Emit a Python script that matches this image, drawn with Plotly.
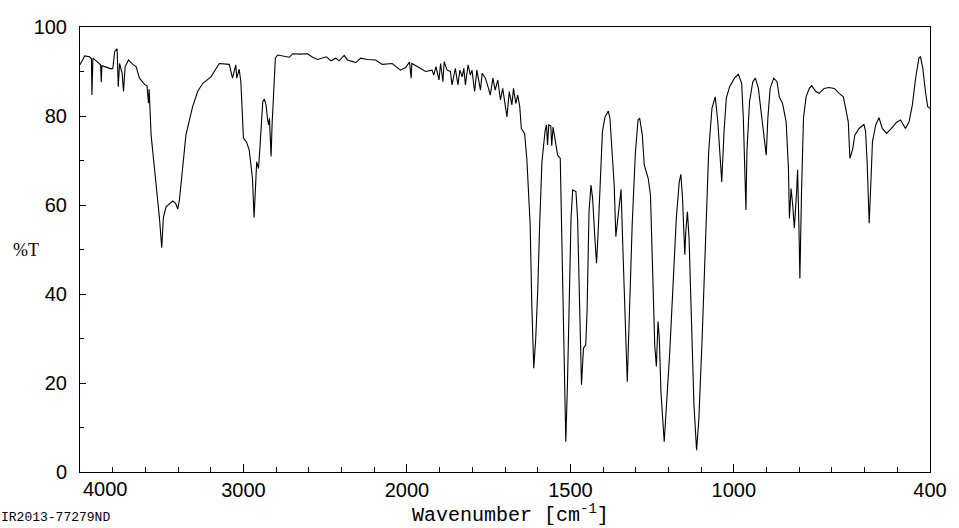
import plotly.graph_objects as go

wavenumber = [
    4000, 3971, 3941, 3930, 3927, 3924, 3921, 3901, 3874, 3870, 3866, 3849, 3811, 3799,
    3788, 3773, 3766, 3758, 3742, 3734, 3724, 3703, 3677, 3657, 3636, 3605, 3590, 3581,
    3577, 3565, 3545, 3524, 3514, 3500, 3490, 3474, 3433, 3415, 3402, 3392, 3372, 3352,
    3311, 3280, 3250, 3199, 3148, 3087, 3067, 3047, 3041, 3026, 3016, 3000, 2982, 2965,
    2945, 2935, 2919, 2908, 2898, 2882, 2872, 2862, 2852, 2846, 2841, 2831, 2825, 2815,
    2805, 2791, 2760, 2719, 2699, 2658, 2608, 2577, 2547, 2492, 2465, 2435, 2415, 2384,
    2364, 2313, 2283, 2242, 2191, 2151, 2090, 2039, 2008,
    1992, 1987, 1985, 1963, 1943, 1923, 1918, 1911, 1902, 1897, 1890, 1886, 1877, 1867,
    1862, 1852, 1844, 1838, 1831, 1826, 1821, 1813, 1806, 1801, 1793, 1786, 1775, 1770,
    1760, 1752, 1745, 1737, 1730, 1722, 1714, 1707, 1699, 1694, 1687, 1679, 1674, 1667,
    1661, 1655, 1650, 1640, 1633, 1628, 1623, 1618, 1612, 1606, 1600, 1594, 1587, 1577,
    1573, 1570, 1566, 1560, 1557, 1553, 1539, 1531, 1526, 1519, 1514, 1509, 1503, 1498,
    1493, 1483, 1478, 1473, 1466, 1460, 1453, 1449, 1443, 1437, 1432, 1425, 1420, 1415,
    1409, 1402, 1394, 1384, 1379, 1374, 1366, 1361, 1354, 1348, 1345, 1338, 1330, 1326,
    1318, 1311, 1301, 1293, 1288, 1280, 1274, 1262, 1255, 1249, 1242, 1237, 1232, 1228,
    1223, 1213, 1206, 1196, 1186, 1176, 1167, 1162, 1157, 1150, 1147, 1142, 1137, 1130,
    1122, 1114, 1107, 1097, 1087, 1077, 1067, 1057, 1049, 1042, 1037, 1030, 1023, 1013,
    998, 986, 976, 971, 963, 960, 952, 942, 934, 925, 917, 906, 901, 896, 889, 878, 868,
    861, 851, 840, 833, 830, 825, 820, 815, 808, 805, 801, 798, 793, 787, 779, 769, 762,
    749, 739, 724, 709, 693, 678, 665, 658, 650, 645, 637, 630, 617, 602, 597, 592, 586,
    582, 576, 566, 556, 546, 533, 518, 502, 490, 475, 464, 454, 444, 434, 429, 422, 414,
    407, 400,
]
transmittance = [
    91.5, 93.5, 93.3, 92.8, 84.7, 92.5, 93.0, 92.4, 91.5, 87.6, 91.3, 91.1, 90.6, 90.7,
    94.5, 95.1, 86.6, 91.8, 89.6, 85.5, 91.1, 92.6, 91.6, 91.1, 88.5, 87.1, 86.8, 82.9,
    86.0, 75.7, 69.0, 61.5, 57.1, 50.4, 57.1, 59.6, 60.9, 60.4, 59.1, 61.1, 68.3, 75.7,
    82.1, 85.5, 87.3, 88.8, 91.8, 91.6, 88.5, 91.5, 88.5, 90.5, 87.7, 75.0, 74.2, 72.4,
    66.0, 57.2, 69.7, 68.2, 73.5, 83.2, 83.8, 82.5, 79.1, 78.0, 79.5, 70.9, 78.0, 87.0,
    93.0, 93.7, 93.5, 93.2, 94.0, 93.9, 94.0, 93.2, 92.7, 93.3, 92.4, 93.0, 92.4, 93.6,
    92.6, 92.0, 93.0, 92.7, 92.6, 91.6, 91.8, 90.3, 90.9,
    92.1, 88.5, 91.8, 90.9, 90.0, 90.3, 89.2, 91.1, 88.1, 91.8, 87.7, 92.2, 90.3, 90.0,
    87.0, 90.7, 87.0, 90.3, 88.8, 90.7, 87.0, 91.5, 89.2, 90.3, 85.5, 90.3, 85.8, 89.6,
    88.5, 86.6, 84.7, 88.5, 85.8, 88.1, 83.6, 86.2, 82.5, 79.8, 85.5, 82.5, 86.2, 82.8,
    84.7, 82.2, 77.2, 76.1, 70.1, 64.1, 55.5, 37.5, 23.3, 30.0, 40.5, 55.5, 69.7, 76.9,
    78.0, 73.5, 78.0, 77.8, 73.3, 77.5, 71.2, 70.5, 54.0, 25.5, 6.8, 19.6, 39.0, 57.0,
    63.4, 63.0, 57.0, 38.3, 19.6, 27.8, 28.5, 36.0, 58.5, 64.5, 61.5, 52.5, 46.9, 54.0,
    66.0, 76.5, 79.8, 81.1, 79.5, 73.5, 64.5, 52.9, 57.8, 61.1, 63.5, 47.0, 31.5, 20.3,
    39.0, 55.5, 72.0, 79.1, 79.5, 75.7, 69.0, 66.0, 62.2, 48.0, 28.5, 23.7, 33.8, 30.0,
    18.0, 6.8, 14.3, 27.0, 42.0, 57.0, 65.2, 66.9, 61.5, 48.8, 54.0, 58.5, 52.5, 36.0,
    15.0, 4.9, 12.0, 30.0, 52.5, 72.0, 81.7, 84.3, 78.7, 70.5, 65.2, 76.5, 84.0, 86.6,
    88.5, 89.4, 87.3, 79.5, 58.9, 72.0, 83.2, 87.7, 88.5, 86.2, 81.0, 75.0, 71.2, 79.5,
    86.2, 88.5, 87.7, 84.3, 82.8, 78.7, 68.2, 57.0, 63.7, 60.0, 54.8, 63.0, 67.9, 55.5,
    43.5, 63.0, 79.5, 84.3, 86.2, 86.8, 85.5, 85.1, 86.2, 86.4, 86.2, 85.1, 84.3, 81.7,
    78.7, 70.5, 72.4, 75.7, 77.2, 78.1, 76.5, 69.0, 55.9, 63.0, 74.2, 78.0, 79.6, 77.2,
    76.1, 77.2, 78.6, 79.1, 77.2, 78.7, 82.5, 88.5, 93.0, 93.3, 90.7, 85.5, 82.1, 81.7,
]

x_tick_labels = [3000, 2000, 1500, 1000, 400]
y_ticks = [0, 20, 40, 60, 80, 100]
sample_id = "IR2013-77279ND"


def axis_pos(w):
    # The chart uses a scale change at 2000 cm-1 (right part expanded 2x)
    return (4000 - w) / 1000 if w >= 2000 else 2 + (2000 - w) / 500


xs = [axis_pos(w) for w in wavenumber]

fig = go.Figure()
fig.add_trace(go.Scatter(x=xs, y=transmittance, mode="lines",
                         line=dict(color="black", width=1.1), hoverinfo="skip"))

tick_font = dict(family="Liberation Sans, Arial, sans-serif", size=20, color="black")
mono = "Liberation Mono, Courier New, monospace"

fig.update_layout(
    width=959, height=528,
    margin=dict(l=80, r=24, t=27, b=56),
    paper_bgcolor="white", plot_bgcolor="white",
    showlegend=False,
    xaxis=dict(
        range=[0, axis_pos(400)],
        tickmode="array",
        tickvals=[axis_pos(v) for v in x_tick_labels],
        ticktext=[str(v) for v in x_tick_labels],
        ticks="inside", ticklen=8, tickcolor="black", tickwidth=1,
        minor=dict(tickmode="linear", tick0=0, dtick=0.2, ticks="inside",
                   ticklen=5, tickcolor="black"),
        showgrid=False, zeroline=False,
        showline=True, linecolor="black", linewidth=1, mirror=True,
        tickfont=tick_font,
    ),
    yaxis=dict(
        range=[0, 100],
        tickmode="array", tickvals=y_ticks, ticktext=[str(v) for v in y_ticks],
        ticks="inside", ticklen=6, tickcolor="black",
        minor=dict(tickmode="linear", tick0=0, dtick=10, ticks="inside",
                   ticklen=4, tickcolor="black"),
        showgrid=False, zeroline=False,
        showline=True, linecolor="black", linewidth=1, mirror=True,
        tickfont=tick_font, ticklabelstandoff=8,
    ),
)

fig.add_annotation(x=0, y=0, xref="x", yref="paper", text="4000", showarrow=False,
                   xanchor="left", yanchor="top", xshift=1, yshift=-4, font=tick_font)
fig.add_annotation(x=0.506, y=0, xref="paper", yref="paper",
                   text="Wavenumber [cm<sup>-1</sup>]", showarrow=False,
                   xanchor="center", yanchor="top", yshift=-27,
                   font=dict(family=mono, size=20, color="black"))
fig.add_annotation(x=-0.064, y=0.5, xref="paper", yref="paper", text="%T",
                   showarrow=False, xanchor="center", yanchor="middle",
                   font=dict(family="Liberation Serif, serif", size=18, color="black"))
fig.add_annotation(x=0, y=0, xref="paper", yref="paper", text=sample_id,
                   showarrow=False, xanchor="left", yanchor="bottom",
                   xshift=-81, yshift=-55,
                   font=dict(family=mono, size=13, color="black"))

fig.write_html("out.html")
